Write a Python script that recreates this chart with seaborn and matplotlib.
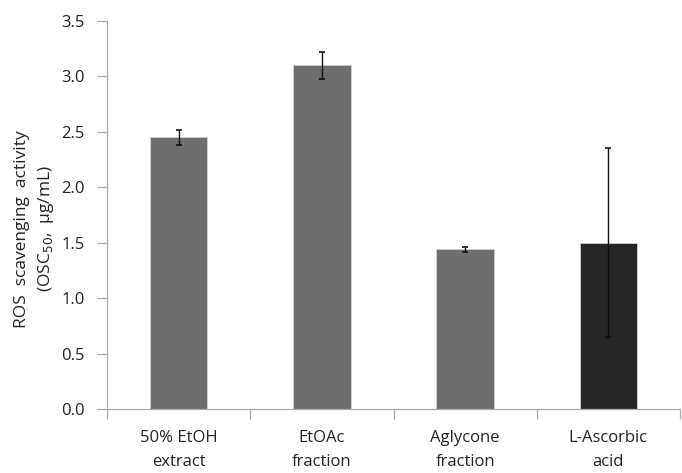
import numpy as np
import pandas as pd
import matplotlib
matplotlib.use("Agg")
import matplotlib.pyplot as plt
import seaborn as sns

# datos
categorias = ["50% EtOH\nextract", "EtOAc\nfraction", "Aglycone\nfraction", "L-Ascorbic\nacid"]
valores = [2.45, 3.10, 1.44, 1.50]
errores = [0.07, 0.12, 0.02, 0.85]
colores = ["#6e6e6e", "#6e6e6e", "#6e6e6e", "#262626"]

df = pd.DataFrame({"cat": categorias, "val": valores})

sns.set_style("white")
plt.rcParams["font.family"] = ["Open Sans", "DejaVu Sans"]

fig = plt.figure(figsize=(6.82, 4.73), dpi=100)
ax = fig.add_axes([0.157, 0.135, 0.84, 0.821])

sns.barplot(data=df, x="cat", y="val", hue="cat", palette=colores, legend=False,
            width=0.4, errorbar=None, ax=ax, edgecolor="#d0d0d0", linewidth=0.6)
ax.errorbar(np.arange(len(valores)), valores, yerr=errores, fmt="none",
            ecolor="#111111", elinewidth=1.0, capsize=2.5, capthick=1.2)

ax.set_xlim(-0.5, len(categorias) - 0.5)
ax.set_ylim(0, 3.5)
ax.set_yticks(np.arange(0, 3.51, 0.5))
ax.set_yticklabels([f"{v:.1f}" for v in np.arange(0, 3.51, 0.5)], fontsize=12, color="#222222")
ax.set_xticks(range(len(categorias)))
ax.set_xticklabels(categorias, fontsize=12, color="#222222", linespacing=1.7)
ax.set_xticks(np.arange(-0.5, len(categorias)), minor=True)
ax.tick_params(axis="x", which="major", bottom=False, length=0, pad=15)
ax.tick_params(axis="x", which="minor", bottom=True, length=7, width=0.9, color="#aaaaaa", direction="out")
ax.tick_params(axis="y", left=True, length=7, width=0.9, color="#aaaaaa", direction="out", pad=9)
ax.set_xlabel("")
ax.set_ylabel("ROS  scavenging  activity\n(OSC$_{50}$,  μg/mL)", fontsize=12.5, color="#222222",
              linespacing=1.4)
ax.yaxis.set_label_coords(-0.09, 0.464)

sns.despine(ax=ax)
for s in ["left", "bottom"]:
    ax.spines[s].set_color("#aaaaaa")
    ax.spines[s].set_linewidth(0.9)

fig.savefig("out.png", dpi=100)
